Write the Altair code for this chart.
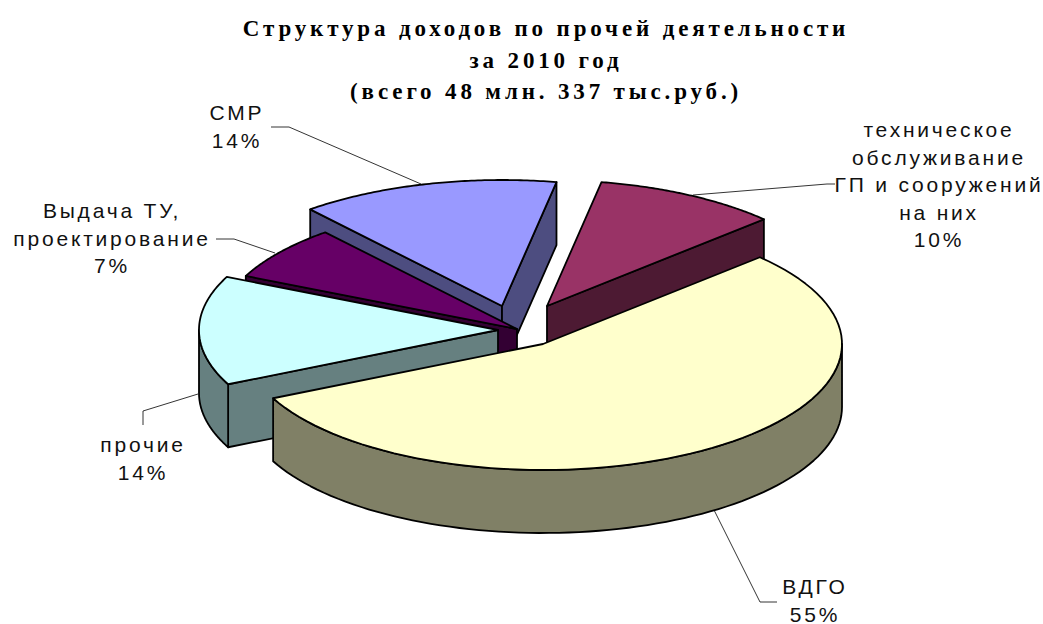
import math
import altair as alt
import pandas as pd

# --- values ---
categories = ["ВДГО", "прочие", "Выдача ТУ,\nпроектирование", "СМР", "техническое\nобслуживание\nГП и сооружений\nна них"]
shares = [55, 14, 7, 14, 10]
top_colors = ["#FFFFCC", "#CCFFFF", "#660066", "#9999FF", "#993366"]
side_colors = ["#808066", "#668080", "#330033", "#4D4D80", "#4D1A33"]
title_lines = ["Структура доходов по прочей деятельности", "за 2010 год", "(всего 48 млн. 337 тыс.руб.)"]

# --- pie geometry (layout of the 3D view) ---
RX, RY, DEPTH = 299, 126, 63
START = 43.5
apex = [(543, 344), (498, 330), (517, 329), (502, 306), (547, 306)]
paint_order = [3, 2, 4, 1, 0]
label_pos = [(815, 594), (143, 452), (112, 218), (237, 120), (939, 137)]
leaders = [
    [(714, 510), (760, 602), (777, 602)],
    [(198, 394), (143, 411), (143, 425)],
    [(216, 239), (234, 239), (275, 253)],
    [(271, 127), (289, 127), (421, 184)],
    [(835, 184), (827, 184), (693, 195)],
]


def pt(c, a, drop=0):
    r = math.radians(a)
    return (c[0] + RX * math.cos(r), c[1] - RY * math.sin(r) + drop)


def shape(coords, fill):
    return {
        "type": "Feature",
        "properties": {"fill": fill},
        "geometry": {"type": "Polygon", "coordinates": [[list(p) for p in coords] + [list(coords[0])]]},
    }


def arc(c, a, b, drop=0, n=80):
    return [pt(c, a + (b - a) * i / n, drop) for i in range(n + 1)]


angles = []
cur = START
for s in shares:
    nxt = cur - s * 3.6
    angles.append((cur, nxt))
    cur = nxt

features = []
for i in paint_order:
    a, b = angles[i]
    c = apex[i]
    c1 = (c[0], c[1] + DEPTH)
    side, top = side_colors[i], top_colors[i]
    if math.cos(math.radians(a)) < 0:
        features.append(shape([c, pt(c, a), pt(c, a, DEPTH), c1], side))
    if math.cos(math.radians(b)) > 0:
        features.append(shape([c, pt(c, b), pt(c, b, DEPTH), c1], side))
    # outer wall: only the part on the near half of the ellipse
    s0, s1 = min(a, b), max(a, b)
    for shift in (0, -360, 360):
        u0, u1 = max(s0 + shift, -180), min(s1 + shift, 0)
        if u1 > u0:
            features.append(shape(arc(c, u0, u1) + arc(c, u1, u0, DEPTH), side))
    features.append(shape([c] + arc(c, a, b), top))

lines = [
    {"type": "Feature", "properties": {},
     "geometry": {"type": "LineString", "coordinates": [[x, y] for x, y in ld]}}
    for ld in leaders
]

proj = alt.Projection(type="identity", scale=1, translate=[0, 0])


def geo(feats):
    return alt.InlineData(values={"type": "FeatureCollection", "features": feats},
                          format=alt.DataFormat(property="features", type="json"))


pie = alt.Chart(geo(features)).mark_geoshape(stroke="#000000", strokeWidth=1.8, strokeJoin="round").encode(
    fill=alt.Fill("properties.fill:N", scale=None)
).project(**proj.to_dict())

leader_layer = alt.Chart(geo(lines)).mark_geoshape(filled=False, stroke="#000000", strokeWidth=0.8).project(**proj.to_dict())

labels = pd.DataFrame({
    "label": [f"{c}\n{s}%" for c, s in zip(categories, shares)],
    "x": [p[0] for p in label_pos],
    "y": [p[1] for p in label_pos],
})
text = alt.Chart(labels).mark_text(
    font="Liberation Sans", fontSize=21, lineBreak="\n", lineHeight=27.5, align="center",
    baseline="alphabetic", color="#111111"
).encode(x=alt.X("x:Q", scale=None, axis=None), y=alt.Y("y:Q", scale=None, axis=None), text="label:N")

chart = alt.layer(leader_layer, pie, text).properties(
    width=1043, height=624,
    autosize=alt.AutoSizeParams(type="none"),
    padding=0,
    title=alt.TitleParams(
        text=title_lines, font="Liberation Serif", fontSize=23, fontWeight="bold", color="#000000",
        lineHeight=31.5, anchor="start", align="center", dx=546, dy=122, baseline="alphabetic", offset=0,
    ),
).configure_view(stroke=None)

chart.save("out.html", embed_options={
    "renderer": "svg", "actions": False,
    "defaultStyle": "body{margin:0}.mark-text text{letter-spacing:2.8px}.role-title-text text{letter-spacing:3.85px}",
})
